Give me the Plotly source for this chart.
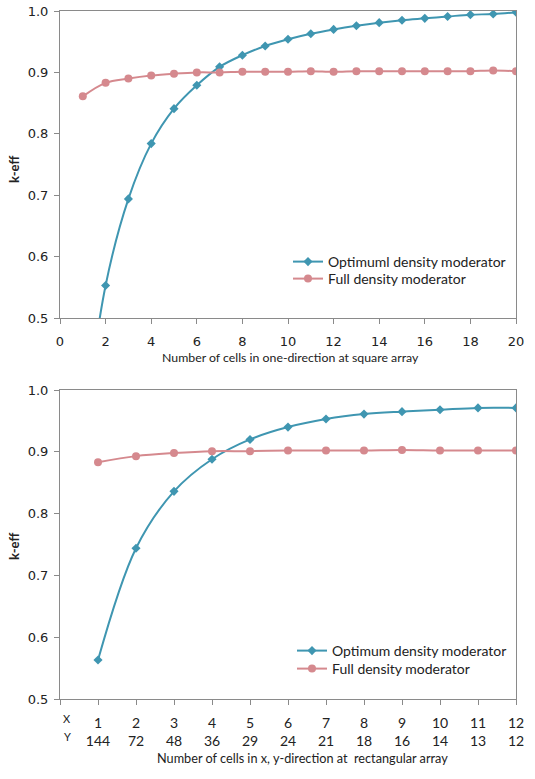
import plotly.graph_objects as go

# ---- data: square array (top chart) ----
cells_square = list(range(1, 21))
optimum_square = [0.30, 0.553, 0.694, 0.784, 0.841, 0.879, 0.909, 0.928, 0.943, 0.954,
                  0.963, 0.970, 0.976, 0.981, 0.985, 0.988, 0.991, 0.994, 0.995, 0.998]
full_square = [0.861, 0.883, 0.890, 0.895, 0.898, 0.900, 0.900, 0.901, 0.901, 0.901,
               0.902, 0.901, 0.902, 0.902, 0.902, 0.902, 0.902, 0.902, 0.903, 0.902]

# ---- data: rectangular array (bottom chart) ----
cells_x = list(range(1, 13))
cells_y = [144, 72, 48, 36, 29, 24, 21, 18, 16, 14, 13, 12]
optimum_rect = [0.563, 0.744, 0.836, 0.888, 0.920, 0.940, 0.953, 0.961, 0.965, 0.968, 0.971, 0.971]
full_rect = [0.883, 0.893, 0.898, 0.901, 0.901, 0.902, 0.902, 0.902, 0.903, 0.902, 0.902, 0.902]

BLUE = "#3F96B1"
PINK = "#D5898E"
FRAME = "#8A8A8A"
TEXT = "#222222"
TICKFONT = dict(family="DejaVu Sans", size=13, color=TEXT)
TEXTFONT = "Lato"

fig = go.Figure()

def add_series(x, y, name, color, symbol, size, xa, ya, leg):
    fig.add_trace(go.Scatter(x=x, y=y, name=name, mode="lines+markers",
                             line=dict(color=color, width=2, shape="spline"),
                             marker=dict(symbol=symbol, size=size, color=color),
                             xaxis=xa, yaxis=ya, legend=leg))

add_series(cells_square, optimum_square, "Optimuml density moderator", BLUE, "diamond", 7, "x", "y", "legend")
add_series(cells_square, full_square, "Full density moderator", PINK, "circle", 8, "x", "y", "legend2")
add_series(cells_x, optimum_rect, "Optimum density moderator", BLUE, "diamond", 7, "x2", "y2", "legend3")
add_series(cells_x, full_rect, "Full density moderator", PINK, "circle", 8, "x2", "y2", "legend4")

axis_common = dict(showgrid=False, zeroline=False, showline=True, mirror=True,
                   linecolor=FRAME, linewidth=1, ticks="outside", ticklen=5,
                   tickcolor=FRAME, tickfont=TICKFONT, automargin=False)

# layout geometry (pixels): plot area x 60..516, y 11..699
def py(pix):
    return (699 - pix) / 688

def px(pix):
    return (pix - 60) / 456

top_dom = [py(318), 1.0]
bot_dom = [0.0, py(390)]

def legend_at(xpix, ypix):
    return dict(x=px(xpix), y=py(ypix), xanchor="left", yanchor="middle",
                font=dict(family=TEXTFONT, size=14, color=TEXT),
                bgcolor="rgba(0,0,0,0)", itemwidth=30)

fig.update_layout(
    width=535, height=779,
    template="none",
    margin=dict(l=60, r=19, t=11, b=80, autoexpand=False),
    paper_bgcolor="white", plot_bgcolor="white",
    showlegend=True,
    xaxis=dict(domain=[0, 1], range=[0, 20], dtick=2, anchor="y",
               ticklabelstandoff=6, **axis_common),
    yaxis=dict(domain=top_dom, range=[0.5, 1.0], dtick=0.1, tickformat=".1f",
               anchor="x", ticklabelstandoff=3, **axis_common),
    xaxis2=dict(domain=[0, 1], range=[0, 12],
                tickvals=[0] + cells_x,
                ticktext=[""] + [f"{a}<br>{b}" for a, b in zip(cells_x, cells_y)],
                anchor="y2", ticklabelstandoff=6,
                **{**axis_common, "tickfont": dict(family=TEXTFONT, size=14, color=TEXT)}),
    yaxis2=dict(domain=bot_dom, range=[0.5, 1.0], dtick=0.1, tickformat=".1f",
                anchor="x2", ticklabelstandoff=3, **axis_common),
    legend=legend_at(288, 262),
    legend2=legend_at(288, 279),
    legend3=legend_at(292, 651),
    legend4=legend_at(292, 669),
)

annotations = [
    dict(text="<b>k-eff</b>", x=14, y=170, textangle=-90),
    dict(text="<b>k-eff</b>", x=14, y=547, textangle=-90),
    dict(text="Number of cells in one-direction at square array", x=290, y=357, size=12.3),
    dict(text="Number of cells in x, y-direction at  rectangular array", x=302, y=758, size=12.7),
    dict(text="X", x=67, y=718, size=11),
    dict(text="Y", x=67, y=736, size=11),
]
for a in annotations:
    fig.add_annotation(
        text=a["text"], textangle=a.get("textangle", 0),
        xref="paper", yref="paper",
        x=px(a["x"]), y=py(a["y"]),
        xanchor="center", yanchor="middle", showarrow=False,
        font=dict(family=TEXTFONT, size=a.get("size", 13), color=TEXT),
    )

fig.write_html("out.html")
